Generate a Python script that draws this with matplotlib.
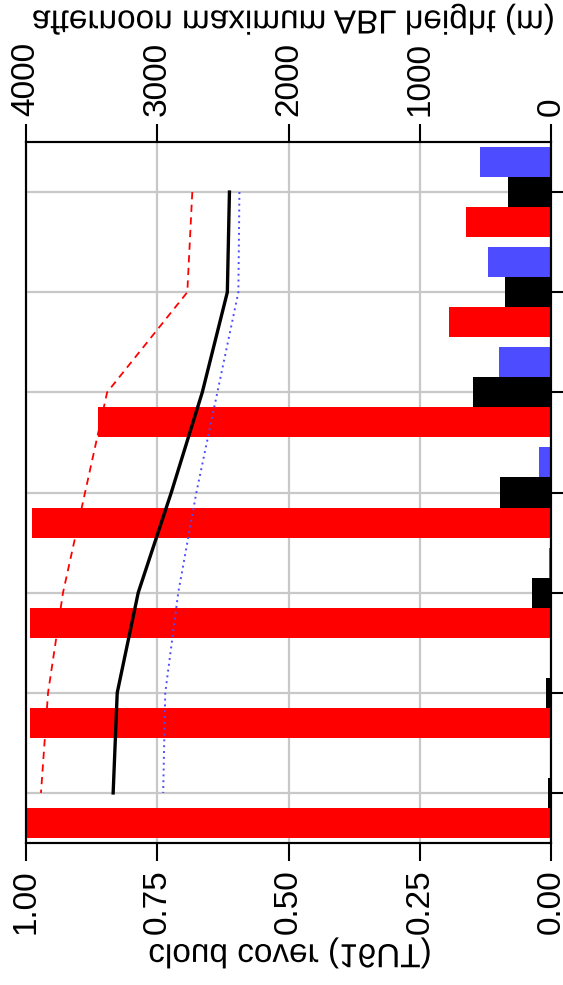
import numpy as np
import matplotlib.pyplot as plt
from matplotlib.patheffects import AbstractPathEffect
from matplotlib.transforms import Affine2D

# groups listed from top to bottom of the panel
groups = np.arange(7)

# cloud cover at 16 UT, one bar per run
cloud_blue = [0.135, 0.120, 0.100, 0.023, 0.004, 0.0, 0.0]
cloud_black = [0.082, 0.088, 0.149, 0.097, 0.037, 0.010, 0.005]
cloud_red = [0.162, 0.195, 0.863, 0.989, 0.992, 0.992, 1.000]

# afternoon maximum ABL height (m)
abl_black = [2450, 2466, 2657, 2893, 3145, 3305, 3336]
abl_red = [2733, 2771, 3382, 3550, 3718, 3832, 3886]
abl_blue = [2374, 2382, 2542, 2702, 2840, 2939, 2955]

cloud_ticks = [0.0, 0.25, 0.5, 0.75, 1.0]
cloud_labels = ['0.00', '0.25', '0.50', '0.75', '1.00']
abl_ticks = [0, 1000, 2000, 3000, 4000]
abl_labels = ['0', '1000', '2000', '3000', '4000']

BLUE = '#4d4dff'
RED = '#ff0000'


class FlipVertical(AbstractPathEffect):
    """Draw the text path mirrored about its own horizontal centre line."""

    def draw_path(self, renderer, gc, tpath, affine, rgbFace=None):
        ext = tpath.get_extents(affine)
        cy = (ext.y0 + ext.y1) / 2
        flip = Affine2D().translate(0, -cy).scale(1, -1).translate(0, cy)
        renderer.draw_path(gc, tpath, affine + flip, rgbFace)


plt.rcParams['font.family'] = ['Liberation Sans', 'DejaVu Sans']
plt.rcParams['font.size'] = 24

W, H = 563, 985
fig = plt.figure(figsize=(W / 100, H / 100), dpi=100)
left, right, top, bottom = 26, 551, 142, 843
ax = fig.add_axes([left / W, 1 - bottom / H, (right - left) / W, (bottom - top) / H])

bar_h = 0.3
ax.barh(groups - bar_h, cloud_blue, height=bar_h, color=BLUE, zorder=2)
ax.barh(groups + bar_h, cloud_red, height=bar_h, color=RED, zorder=2)
ax.barh(groups, cloud_black, height=bar_h, color='black', zorder=3)

ax.set_xlim(1.0, 0.0)
ax.set_ylim(6.5, -0.5)
ax.set_xticks(cloud_ticks)
ax.set_xticklabels(cloud_labels, rotation=90)
ax.set_yticks(groups)
ax.yaxis.tick_right()
ax.tick_params(axis='y', labelright=False, left=False)
ax.tick_params(direction='out', length=13, width=1.5, pad=6)
ax.grid(True, color='#c8c8c8', linewidth=1.6)
ax.set_axisbelow(True)
for sp in ax.spines.values():
    sp.set_linewidth(1.5)

ax.set_xlabel('cloud cover (16UT)', va='center',
              path_effects=[FlipVertical()])
ax.xaxis.set_label_coords(0.503, -0.157)

# second x scale on top for the boundary layer heights
ax2 = ax.twiny()
ax2.set_xlim(4000, 0)
ax2.set_xticks(abl_ticks)
ax2.set_xticklabels(abl_labels, rotation=90)
ax2.tick_params(direction='out', length=13, width=1.5, pad=6)
for sp in ax2.spines.values():
    sp.set_linewidth(1.5)

ax2.plot(abl_red, groups, color=RED, linestyle=(0, (4, 3)), linewidth=1.3)
ax2.plot(abl_blue, groups, color=BLUE, linestyle=(0, (1, 2)), linewidth=1.4)
ax2.plot(abl_black, groups, color='black', linewidth=2.4)
ax2.set_ylim(6.5, -0.5)

ax2.set_xlabel('afternoon maximum ABL height (m)', va='center',
               path_effects=[FlipVertical()])
ax2.xaxis.set_label_coords(0.51, 1.175)

fig.savefig('out.png', dpi=100)
